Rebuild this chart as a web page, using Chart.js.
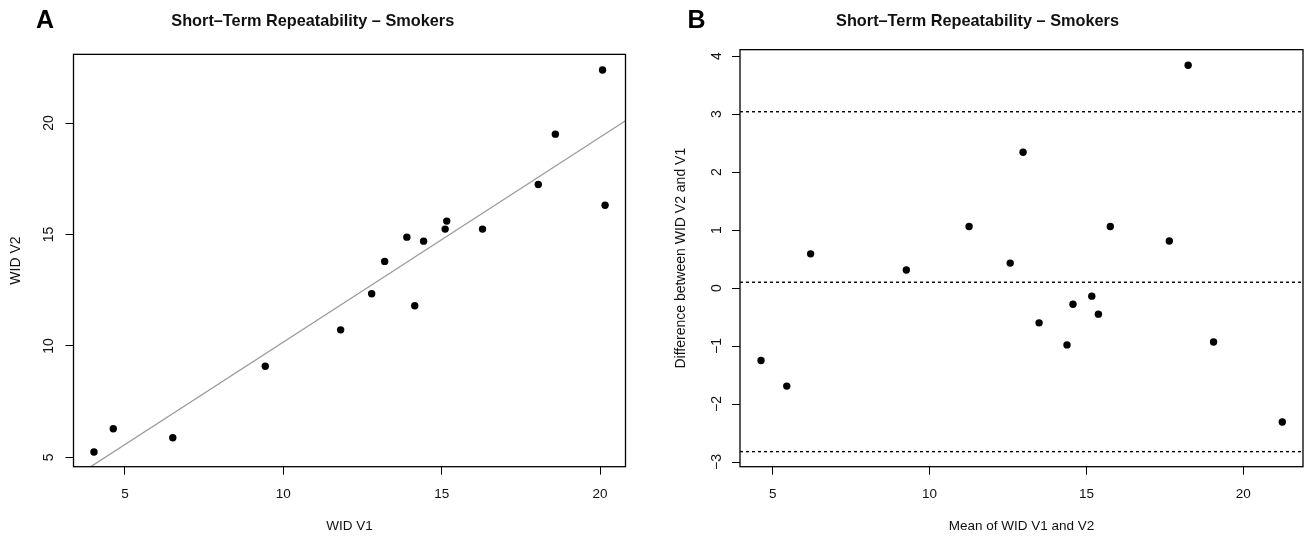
<!DOCTYPE html>
<html>
<head>
<meta charset="utf-8">
<script src="https://cdn.jsdelivr.net/npm/chart.js@4.4.0/dist/chart.umd.min.js"></script>
<style>
  body { margin: 0; background: #fff; }
  .panel { position: absolute; top: 0; height: 542px; }
  #panelA { left: 0; width: 650px; }
  #panelB { left: 650px; width: 657px; }
</style>
</head>
<body>
<div class="panel" id="panelA"><canvas id="chartA"></canvas></div>
<div class="panel" id="panelB"><canvas id="chartB"></canvas></div>
<script>
// panel A: visit 1 vs visit 2
const wid_v1 = [4.02, 4.63, 6.51, 9.43, 11.81, 12.79, 13.20, 13.90, 14.15, 14.43, 15.11, 15.16, 16.29, 18.05, 18.59, 20.08, 20.16];
const wid_v2 = [5.24, 6.28, 5.88, 9.09, 10.72, 12.34, 13.79, 14.88, 11.80, 14.70, 15.24, 15.60, 15.24, 17.24, 19.50, 22.38, 16.31];
const fitIntercept = 0.98;
const fitSlope = 0.919;

// panel B: Bland-Altman
const mean_v1v2 = [4.63, 5.45, 6.21, 9.26, 11.26, 12.57, 12.98, 13.49, 14.38, 14.57, 15.17, 15.38, 15.76, 17.64, 18.24, 19.05, 21.24];
const diff_v2v1 = [-1.25, -1.69, 0.59, 0.31, 1.06, 0.43, 2.34, -0.60, -0.98, -0.28, -0.14, -0.45, 1.06, 0.81, 3.84, -0.93, -2.31];
const meanDiff = 0.10;
const upperLimit = 3.04;
const lowerLimit = -2.82;

// tick labels
const xTicksA = [5, 10, 15, 20];
const yTicksA = [5, 10, 15, 20];
const xTicksB = [5, 10, 15, 20];
const yTicksB = [-3, -2, -1, 0, 1, 2, 3, 4];

// axis ranges (R adds 4% each side)
const xRangeA = [3.374, 20.805];
const yRangeA = [4.58, 23.08];
const xRangeB = [3.96, 21.9];
const yRangeB = [-3.08, 4.11];

const chartTitle = "Short\u2013Term Repeatability \u2013 Smokers";

Chart.defaults.font.family = '"Liberation Sans", Arial, Helvetica, sans-serif';
Chart.defaults.color = '#111';

// R-like box, rotated y tick labels and the panel letter
const rStyle = {
    id: 'rStyle',
    afterDraw(chart, args, opts) {
        const ctx = chart.ctx;
        const a = chart.chartArea;
        const ys = chart.scales.y;
        ctx.save();
        ctx.strokeStyle = '#000';
        ctx.lineWidth = 1.3;
        ctx.strokeRect(a.left, a.top, a.right - a.left, a.bottom - a.top);

        ctx.fillStyle = '#111';
        ctx.font = '14px "Liberation Sans", Arial, sans-serif';
        ctx.textAlign = 'center';
        ctx.textBaseline = 'middle';
        ys.ticks.forEach(t => {
            ctx.save();
            ctx.translate(a.left - opts.labelGap, ys.getPixelForValue(t.value));
            ctx.rotate(-Math.PI / 2);
            ctx.fillText(t.label, 0, 0);
            ctx.restore();
        });

        ctx.fillStyle = '#000';
        ctx.font = 'bold 25px "Liberation Sans", Arial, sans-serif';
        ctx.fillText(opts.letter, opts.letterX, opts.letterY);
        ctx.restore();
    }
};

function fmt(v) {
    return v < 0 ? '\u2212' + Math.abs(v) : String(v);
}

function xAxis(range, ticks, title) {
    return {
        type: 'linear',
        min: range[0],
        max: range[1],
        afterBuildTicks: s => { s.ticks = ticks.map(v => ({ value: v })); },
        afterFit: s => { s.height = 75.3; },
        grid: { drawOnChartArea: false, drawTicks: true, tickLength: 8, color: '#000', lineWidth: 1 },
        border: { display: false },
        ticks: { autoSkip: false, maxRotation: 0, padding: 11, font: { size: 13.5 }, callback: v => fmt(v) },
        title: { display: true, text: title, font: { size: 13.5 }, padding: { top: 0, bottom: 8 } }
    };
}

function yAxis(range, ticks, title, width, titlePad) {
    return {
        type: 'linear',
        min: range[0],
        max: range[1],
        afterBuildTicks: s => { s.ticks = ticks.map(v => ({ value: v })); },
        afterFit: s => { s.width = width; },
        grid: { drawOnChartArea: false, drawTicks: true, tickLength: 8, color: '#000', lineWidth: 1 },
        border: { display: false },
        ticks: { display: false, autoSkip: false, callback: v => fmt(v) },
        title: { display: true, text: title, font: { size: 14 }, padding: { top: titlePad, bottom: 0 } }
    };
}

function hline(y, range) {
    return {
        type: 'line',
        data: [{ x: range[0], y: y }, { x: range[1], y: y }],
        borderColor: '#000',
        borderWidth: 1.4,
        borderDash: [3, 3],
        pointRadius: 0,
        showLine: true,
        fill: false
    };
}

const dots = { pointRadius: 3.7, pointBackgroundColor: '#000', pointBorderWidth: 0, showLine: false };

new Chart(document.getElementById('chartA'), {
    type: 'scatter',
    data: {
        datasets: [
            Object.assign({ data: wid_v1.map((x, i) => ({ x: x, y: wid_v2[i] })) }, dots),
            {
                type: 'line',
                data: xRangeA.map(x => ({ x: x, y: fitIntercept + fitSlope * x })),
                borderColor: '#9c9c9c',
                borderWidth: 1.3,
                pointRadius: 0,
                showLine: true,
                fill: false
            }
        ]
    },
    options: {
        responsive: true,
        maintainAspectRatio: false,
        animation: false,
        layout: { padding: { left: 0, right: 24.5, top: 0, bottom: 0 } },
        scales: {
            x: xAxis(xRangeA, xTicksA, 'WID V1'),
            y: yAxis(yRangeA, yTicksA, 'WID V2', 73.5, 8)
        },
        plugins: {
            legend: { display: false },
            tooltip: { enabled: false },
            title: { display: true, text: chartTitle, font: { size: 16.3, weight: 'bold' }, padding: { top: 11.4, bottom: 23.4 } },
            rStyle: { letter: 'A', letterX: 45, letterY: 21, labelGap: 24.5 }
        }
    },
    plugins: [rStyle]
});

new Chart(document.getElementById('chartB'), {
    type: 'scatter',
    data: {
        datasets: [
            Object.assign({ data: mean_v1v2.map((x, i) => ({ x: x, y: diff_v2v1[i] })) }, dots),
            hline(upperLimit, xRangeB),
            hline(meanDiff, xRangeB),
            hline(lowerLimit, xRangeB)
        ]
    },
    options: {
        responsive: true,
        maintainAspectRatio: false,
        animation: false,
        layout: { padding: { left: 0, right: 2, top: 0, bottom: 0 } },
        scales: {
            x: xAxis(xRangeB, xTicksB, 'Mean of WID V1 and V2'),
            y: yAxis(yRangeB, yTicksB, 'Difference between WID V2 and V1', 90, 23)
        },
        plugins: {
            legend: { display: false },
            tooltip: { enabled: false },
            title: { display: true, text: chartTitle, font: { size: 16.3, weight: 'bold' }, padding: { top: 11.4, bottom: 18.7 } },
            rStyle: { letter: 'B', letterX: 46.5, letterY: 21, labelGap: 23 }
        }
    },
    plugins: [rStyle]
});
</script>
</body>
</html>
